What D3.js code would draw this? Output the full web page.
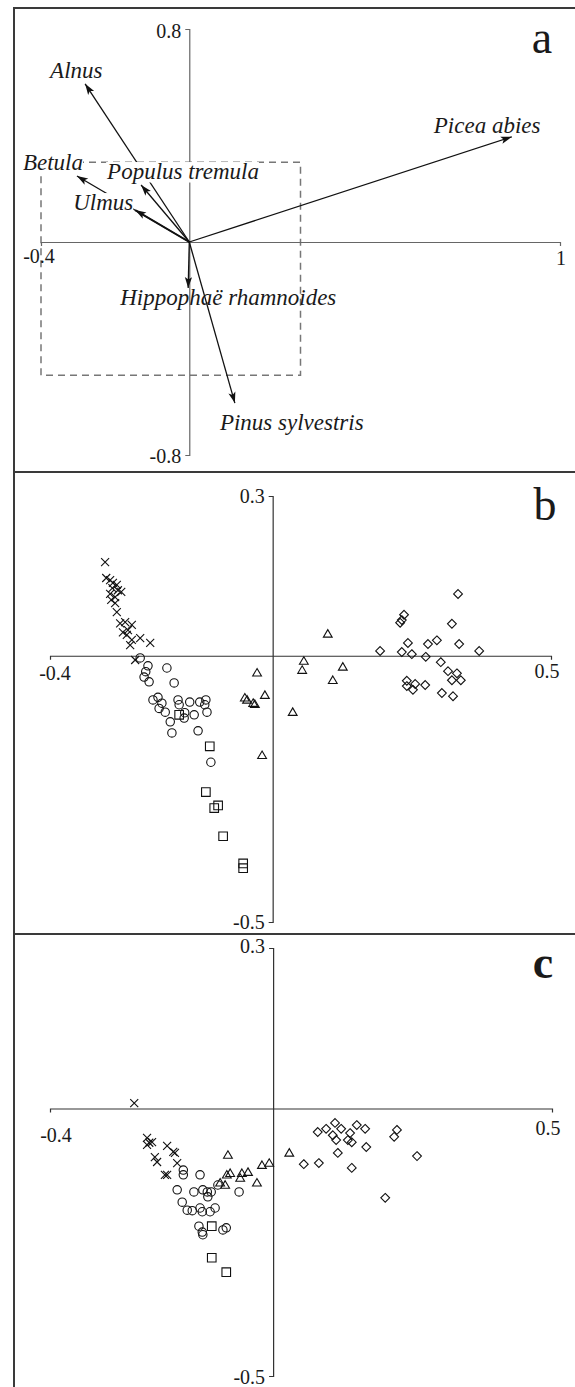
<!DOCTYPE html>
<html><head><meta charset="utf-8">
<script src="https://cdn.jsdelivr.net/npm/d3@7"></script>
<style>html,body{margin:0;padding:0;background:#fff;} svg{display:block;}</style>
</head><body><svg id="chart" width="575" height="1387"></svg>
<script>
// ---------- DATA ----------
// Panel a: species vectors (axis 1, axis 2)
const speciesNames = ["Alnus", "Betula", "Ulmus", "Populus tremula", "Picea abies", "Hippophaë rhamnoides", "Pinus sylvestris"];
const speciesAx1 = [-0.281, -0.303, -0.146, -0.130, 0.870, -0.003, 0.123];
const speciesAx2 = [0.594, 0.248, 0.120, 0.214, 0.395, -0.173, -0.605];
const zoomBoxX = [-0.4, 0.3];
const zoomBoxY = [-0.5, 0.3];
const aTicksX = [-0.4, 1];
const aTicksY = [-0.8, 0.8];
const bcTicksX = [-0.4, 0.5];
const bcTicksY = [-0.5, 0.3];

// Panel b: sample scores by group
const bCross = [[-0.301,0.176],[-0.299,0.146],[-0.292,0.142],[-0.287,0.137],[-0.280,0.133],[-0.288,0.127],[-0.278,0.123],[-0.272,0.120],[-0.292,0.116],[-0.283,0.110],[-0.290,0.105],[-0.283,0.099],[-0.280,0.082],[-0.274,0.061],[-0.265,0.063],[-0.253,0.058],[-0.269,0.044],[-0.260,0.048],[-0.262,0.039],[-0.253,0.030],[-0.256,0.020],[-0.238,0.033],[-0.220,0.024],[-0.247,-0.008]];
const bCircle = [[-0.238,-0.004],[-0.224,-0.019],[-0.190,-0.023],[-0.228,-0.030],[-0.231,-0.040],[-0.222,-0.049],[-0.177,-0.051],[-0.215,-0.083],[-0.206,-0.078],[-0.199,-0.089],[-0.204,-0.099],[-0.193,-0.106],[-0.170,-0.083],[-0.168,-0.092],[-0.158,-0.107],[-0.149,-0.087],[-0.141,-0.111],[-0.131,-0.087],[-0.120,-0.083],[-0.122,-0.092],[-0.118,-0.106],[-0.184,-0.124],[-0.181,-0.145],[-0.134,-0.141],[-0.111,-0.200],[-0.159,-0.117]];
const bSquare = [[-0.168,-0.111],[-0.113,-0.170],[-0.120,-0.256],[-0.105,-0.286],[-0.098,-0.281],[-0.089,-0.339],[-0.053,-0.390],[-0.053,-0.399]];
const bTriangle = [[-0.028,-0.032],[-0.050,-0.079],[-0.046,-0.083],[-0.035,-0.089],[-0.032,-0.091],[-0.014,-0.074],[-0.019,-0.187],[0.099,0.041],[0.056,-0.010],[0.053,-0.027],[0.126,-0.021],[0.108,-0.046],[0.036,-0.106]];
const bDiamond = [[0.333,0.116],[0.236,0.077],[0.232,0.067],[0.229,0.062],[0.322,0.060],[0.243,0.024],[0.279,0.022],[0.295,0.029],[0.335,0.022],[0.193,0.009],[0.232,0.007],[0.250,0.003],[0.371,0.009],[0.275,-0.002],[0.302,-0.012],[0.315,-0.029],[0.331,-0.033],[0.322,-0.046],[0.338,-0.046],[0.241,-0.047],[0.256,-0.053],[0.274,-0.055],[0.241,-0.057],[0.252,-0.064],[0.304,-0.070],[0.324,-0.076]];

// Panel c: sample scores by group
const cCross = [[-0.249,0.010],[-0.226,-0.055],[-0.222,-0.064],[-0.217,-0.063],[-0.226,-0.068],[-0.190,-0.070],[-0.179,-0.081],[-0.212,-0.091],[-0.208,-0.100],[-0.176,-0.083],[-0.172,-0.102],[-0.190,-0.124],[-0.194,-0.124]];
const cTriangle = [[-0.081,-0.087],[-0.083,-0.124],[-0.077,-0.121],[-0.059,-0.130],[-0.056,-0.121],[-0.045,-0.119],[-0.020,-0.106],[-0.007,-0.102],[-0.029,-0.139],[-0.095,-0.139],[-0.086,-0.143],[0.029,-0.083]];
const cCircle = [[-0.161,-0.115],[-0.161,-0.124],[-0.131,-0.124],[-0.172,-0.152],[-0.142,-0.156],[-0.126,-0.152],[-0.118,-0.156],[-0.111,-0.156],[-0.117,-0.165],[-0.099,-0.143],[-0.061,-0.156],[-0.163,-0.175],[-0.154,-0.190],[-0.145,-0.191],[-0.131,-0.186],[-0.127,-0.193],[-0.113,-0.193],[-0.104,-0.186],[-0.133,-0.220],[-0.127,-0.231],[-0.126,-0.236],[-0.090,-0.227],[-0.084,-0.223]];
const cSquare = [[-0.110,-0.220],[-0.110,-0.279],[-0.084,-0.306]];
const cDiamond = [[0.080,-0.044],[0.095,-0.038],[0.111,-0.027],[0.122,-0.038],[0.107,-0.050],[0.113,-0.059],[0.138,-0.046],[0.150,-0.031],[0.165,-0.038],[0.141,-0.063],[0.134,-0.059],[0.167,-0.072],[0.116,-0.083],[0.222,-0.040],[0.217,-0.053],[0.258,-0.089],[0.055,-0.104],[0.082,-0.102],[0.141,-0.111],[0.201,-0.167]];

// ---------- LAYOUT ----------
const FONT = "'Liberation Serif','Times New Roman',serif";
const INK = "#1a1a1a";
const labelLayout = {
  "Alnus": {dx: -35, dy: -6, mask: false},
  "Betula": {dx: -54, dy: -6, mask: true},
  "Ulmus": {dx: -62, dy: 0, mask: true},
  "Populus tremula": {dx: -34, dy: -6, mask: true},
  "Picea abies": {dx: -78, dy: -4, mask: false},
  "Hippophaë rhamnoides": {dx: -68, dy: 17, mask: false},
  "Pinus sylvestris": {dx: -15, dy: 27, mask: false}
};

const svg = d3.select("#chart");

const frame = svg.append("g").attr("stroke", "#3a3a3a").attr("stroke-width", 2).attr("fill", "none");
frame.append("line").attr("x1", 14).attr("x2", 575).attr("y1", 8).attr("y2", 8);
frame.append("line").attr("x1", 14).attr("x2", 14).attr("y1", 7).attr("y2", 1387);
frame.append("line").attr("x1", 14).attr("x2", 575).attr("y1", 472).attr("y2", 472);
frame.append("line").attr("x1", 14).attr("x2", 575).attr("y1", 934).attr("y2", 934);

function drawAxes(g, x, y, tx, ty, color, lab) {
  const fmt = d => String(d);
  g.append("g").attr("transform", `translate(0,${y(0)})`)
    .call(d3.axisBottom(x).tickValues([]).tickSizeOuter(4))
    .call(s => s.select(".domain").attr("stroke", color).attr("stroke-width", 1.2));
  g.append("g").attr("transform", `translate(${x(0)},0)`)
    .call(d3.axisLeft(y).tickValues([]).tickSizeOuter(4))
    .call(s => s.select(".domain").attr("stroke", color).attr("stroke-width", 1.2));
  const t = g.append("g").attr("font-family", FONT).attr("font-size", 20).attr("fill", INK);
  tx.forEach((v, i) => t.append("text").attr("x", x(v) + lab.xdx[i]).attr("y", y(0) + lab.xdy[i])
    .attr("text-anchor", "middle").text(fmt(v)));
  ty.forEach((v, i) => t.append("text").attr("x", x(0) - 8).attr("y", y(v) + lab.ydy[i])
    .attr("text-anchor", "end").attr("dominant-baseline", "central").text(fmt(v)));
}

// ---------- PANEL A ----------
const xA = d3.scaleLinear().domain([-0.4, 1]).range([41, 560]);
const yA = d3.scaleLinear().domain([-0.8, 0.8]).range([455, 29]);
const gA = svg.append("g");
gA.append("rect")
  .attr("x", xA(zoomBoxX[0])).attr("y", yA(zoomBoxY[1]))
  .attr("width", xA(zoomBoxX[1]) - xA(zoomBoxX[0])).attr("height", yA(zoomBoxY[0]) - yA(zoomBoxY[1]))
  .attr("fill", "none").attr("stroke", "#777").attr("stroke-width", 1.5).attr("stroke-dasharray", "7,5");
drawAxes(gA, xA, yA, aTicksX, aTicksY, "#666", {xdx: [-2, 1], xdy: [21, 23], ydy: [1, 2]});

svg.append("defs").append("marker").attr("id", "ah")
  .attr("markerUnits", "userSpaceOnUse").attr("markerWidth", 14).attr("markerHeight", 10)
  .attr("viewBox", "0 -5 12 10").attr("refX", 11).attr("refY", 0).attr("orient", "auto")
  .append("path").attr("d", "M0,-3.6L11,0L0,3.6L2.5,0Z").attr("fill", "#111");

const species = speciesNames.map((n, i) => ({name: n, x: speciesAx1[i], y: speciesAx2[i]}));
gA.append("g").selectAll("line").data(species).join("line")
  .attr("x1", xA(0)).attr("y1", yA(0))
  .attr("x2", d => xA(d.x)).attr("y2", d => yA(d.y))
  .attr("stroke", "#111").attr("stroke-width", d => d.name === "Ulmus" ? 2 : 1.3)
  .attr("marker-end", "url(#ah)");

const labG = gA.append("g");
species.forEach(d => {
  const L = labelLayout[d.name];
  const lx = xA(d.x) + L.dx, ly = yA(d.y) + L.dy;
  const bg = labG.append("rect").attr("fill", "#fff");
  const t = labG.append("text").attr("x", lx).attr("y", ly)
    .attr("font-family", FONT).attr("font-style", "italic").attr("font-size", 23).attr("fill", INK)
    .text(d.name);
  if (L.mask) {
    const bb = t.node().getBBox();
    bg.attr("x", bb.x).attr("width", bb.width).attr("y", ly - 17).attr("height", 20.5);
  } else bg.remove();
});
gA.append("text").attr("x", 542).attr("y", 53).attr("text-anchor", "middle")
  .attr("font-family", FONT).attr("font-size", 46).attr("fill", INK).text("a");

// ---------- SYMBOLS ----------
function shape(type) {
  switch (type) {
    case "circle": return "M4.2,0A4.2,4.2 0 1 1 -4.2,0A4.2,4.2 0 1 1 4.2,0Z";
    case "square": return "M-4.3,-4.3H4.3V4.3H-4.3Z";
    case "triangle": return "M0,-4.3L4.4,3.2L-4.4,3.2Z";
    case "diamond": return "M0,-4.4L4.4,0L0,4.4L-4.4,0Z";
    case "cross": return "M-4,-4L4,4M-4,4L4,-4";
  }
}
function drawPoints(g, x, y, data, type) {
  g.append("g").selectAll("path").data(data).join("path")
    .attr("transform", d => `translate(${x(d[0])},${y(d[1])})`)
    .attr("d", shape(type))
    .attr("fill", "none").attr("stroke", "#111").attr("stroke-width", 1.1);
}

// ---------- PANEL B ----------
const xB = d3.scaleLinear().domain([-0.4, 0.5]).range([50, 551]);
const yB = d3.scaleLinear().domain([-0.5, 0.3]).range([922, 496]);
const gB = svg.append("g");
drawAxes(gB, xB, yB, bcTicksX, bcTicksY, "#333", {xdx: [5, -4], xdy: [24, 22], ydy: [0, 0]});
drawPoints(gB, xB, yB, bCross, "cross");
drawPoints(gB, xB, yB, bCircle, "circle");
drawPoints(gB, xB, yB, bSquare, "square");
drawPoints(gB, xB, yB, bTriangle, "triangle");
drawPoints(gB, xB, yB, bDiamond, "diamond");
gB.append("text").attr("x", 545).attr("y", 520).attr("text-anchor", "middle")
  .attr("font-family", FONT).attr("font-size", 46).attr("fill", INK).text("b");

// ---------- PANEL C ----------
const xC = d3.scaleLinear().domain([-0.4, 0.5]).range([50, 552]);
const yC = d3.scaleLinear().domain([-0.5, 0.3]).range([1376, 948]);
const gC = svg.append("g");
drawAxes(gC, xC, yC, bcTicksX, bcTicksY, "#333", {xdx: [6, -4], xdy: [33, 26], ydy: [1, -2]});
drawPoints(gC, xC, yC, cCross, "cross");
drawPoints(gC, xC, yC, cCircle, "circle");
drawPoints(gC, xC, yC, cSquare, "square");
drawPoints(gC, xC, yC, cTriangle, "triangle");
drawPoints(gC, xC, yC, cDiamond, "diamond");
gC.append("text").attr("x", 543).attr("y", 978).attr("text-anchor", "middle")
  .attr("font-family", FONT).attr("font-size", 46).attr("font-weight", "bold").attr("fill", INK).text("c");
</script></body></html>
